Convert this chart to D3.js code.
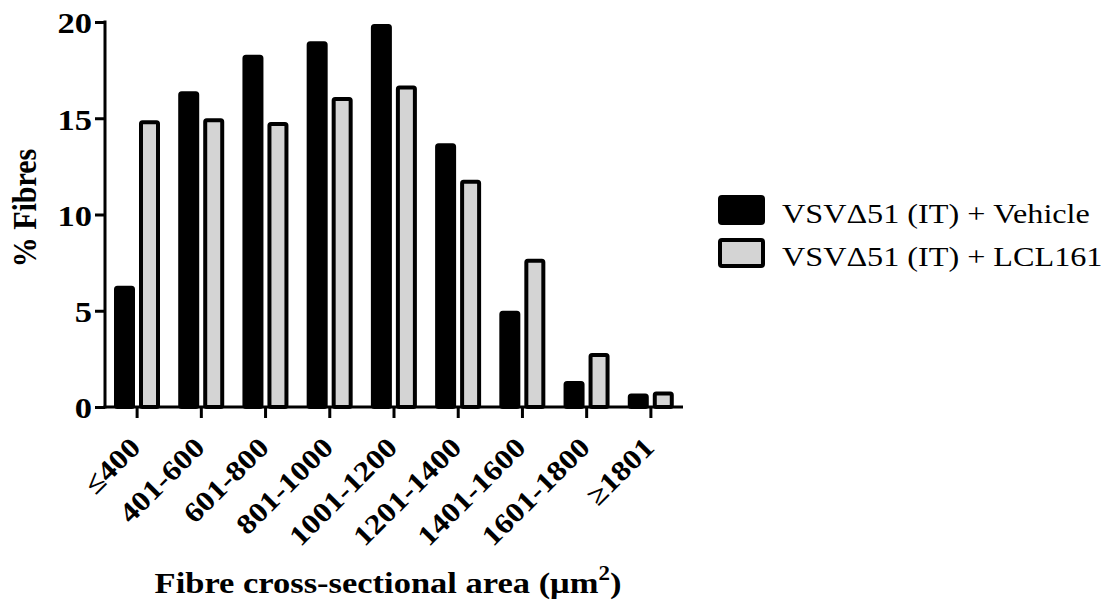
<!DOCTYPE html>
<html>
<head>
<meta charset="utf-8">
<script src="https://cdn.jsdelivr.net/npm/d3@7"></script>
<style>
  body { margin: 0; background: #fff; }
  text { font-family: "Liberation Serif", "Times New Roman", serif; fill: #000; }
</style>
</head>
<body>
<svg width="1104" height="603"></svg>
<script>
const categories = ['≤400', '401-600', '601-800', '801-1000', '1001-1200', '1201-1400', '1401-1600', '1601-1800', '≥1801'];
const seriesNames = ['VSVΔ51 (IT) + Vehicle', 'VSVΔ51 (IT) + LCL161'];
const vehicle = [6.3, 16.4, 18.3, 19.0, 19.9, 13.7, 5.0, 1.35, 0.7];
const lcl161 = [14.9, 15.0, 14.8, 16.1, 16.7, 11.8, 7.7, 2.8, 0.8];
const yTicks = [0, 5, 10, 15, 20];

const fills = ['#000', '#d4d4d4'];
const stretch = 1.15; // the lettering in the original is a bit wide

const data = categories.map((c, i) => ({cat: c, values: [vehicle[i], lcl161[i]]}));

const svg = d3.select('svg');

const x = d3.scaleBand()
  .domain(categories)
  .range([105, 683]);

const xInner = d3.scaleBand()
  .domain(d3.range(seriesNames.length))
  .range([9, 55])
  .paddingInner(0.16);

const y = d3.scaleLinear()
  .domain([0, 20])
  .range([407, 22]);

// bars
const groups = svg.append('g').selectAll('g')
  .data(data)
  .enter().append('g')
    .attr('transform', d => `translate(${x(d.cat)},0)`);

const sw = 4;
groups.selectAll('rect')
  .data(d => d.values.map((v, i) => ({v, i})))
  .enter().append('rect')
    .attr('x', d => xInner(d.i) + sw / 2)
    .attr('width', xInner.bandwidth() - sw)
    .attr('y', d => y(d.v) + sw / 2)
    .attr('height', d => Math.max(0, y(0) - y(d.v) - sw / 2))
    .attr('rx', 1.5)
    .attr('fill', d => fills[d.i])
    .attr('stroke', '#000')
    .attr('stroke-width', sw)
    .attr('stroke-linejoin', 'round');

// y axis
const yAxis = svg.append('g')
  .attr('transform', 'translate(105,0)')
  .call(d3.axisLeft(y).tickValues(yTicks).tickSize(10).tickSizeOuter(0).tickFormat(''));
yAxis.select('.domain').attr('stroke-width', 3).attr('d', `M0,${y(0) + 1.5}V${y(20) - 1.5}`);
yAxis.selectAll('.tick line').attr('stroke-width', 3);
yAxis.selectAll('.tick').append('text')
  .attr('transform', `translate(-13,0) scale(${stretch},1)`)
  .attr('text-anchor', 'end')
  .attr('font-family', '"Liberation Serif", serif')
  .attr('font-size', 30)
  .attr('font-weight', 'bold')
  .attr('dy', '0.36em')
  .text(d => d);

// x axis
const xAxis = svg.append('g')
  .attr('transform', `translate(0,${y(0)})`)
  .call(d3.axisBottom(x).tickSize(11).tickSizeOuter(0).tickFormat(''));
xAxis.select('.domain').attr('stroke-width', 3).attr('d', 'M103.5,0H683');
xAxis.selectAll('.tick line').attr('stroke-width', 3);

svg.append('g').selectAll('text')
  .data(categories)
  .enter().append('text')
    .attr('transform', d => `translate(${x(d) + x.bandwidth() / 2 + 5},449) rotate(-45) scale(${stretch},1)`)
    .attr('text-anchor', 'end')
    .attr('font-size', 28)
    .attr('font-weight', 'bold')
    .text(d => d);

// axis titles
svg.append('text')
  .attr('transform', `translate(36,208) scale(${stretch},1) rotate(-90)`)
  .attr('text-anchor', 'middle')
  .attr('font-size', 30)
  .attr('font-weight', 'bold')
  .text('% Fibres');

const xt = svg.append('text')
  .attr('transform', `translate(388,593) scale(${stretch},1)`)
  .attr('text-anchor', 'middle')
  .attr('font-size', 30)
  .attr('font-weight', 'bold');
xt.append('tspan').text('Fibre cross-sectional area (μm');
xt.append('tspan').attr('font-size', 20).attr('dy', -13).text('2');
xt.append('tspan').attr('dy', 13).text(')');

// legend
const legend = svg.append('g').selectAll('g')
  .data(seriesNames)
  .enter().append('g')
    .attr('transform', (d, i) => `translate(718,${195 + i * 43})`);
legend.append('rect')
  .attr('x', 2).attr('y', 2)
  .attr('width', 43).attr('height', 26)
  .attr('rx', 2)
  .attr('fill', (d, i) => fills[i])
  .attr('stroke', '#000')
  .attr('stroke-width', 4);
legend.append('text')
  .attr('transform', `translate(64,28) scale(${stretch},1)`)
  .attr('font-size', 28)
  .text(d => d);
</script>
</body>
</html>
